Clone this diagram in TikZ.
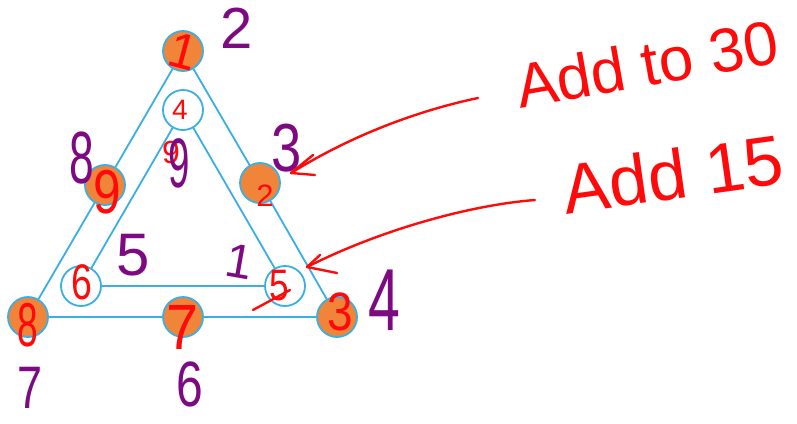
\documentclass[tikz,border=0pt]{standalone}
\usepackage{fontspec}
\setmainfont{Liberation Sans}
\definecolor{lineblue}{HTML}{3BAEE3}
\definecolor{dotorange}{HTML}{F0853A}
\definecolor{inkred}{HTML}{FF0A0A}
\definecolor{inkpurple}{HTML}{7D0A82}
\tikzset{
  fullc/.style={circle, draw=lineblue, line width=1.8pt, fill=dotorange, minimum size=40pt, inner sep=0pt},
  emptyc/.style={circle, draw=lineblue, line width=1.8pt, fill=white, minimum size=40pt, inner sep=0pt},
  link/.style={draw=lineblue, line width=1.8pt},
  rednum/.style={text=inkred, inner sep=0pt, font=\fontsize{#1}{#1}\selectfont},
  purnum/.style={text=inkpurple, inner sep=0pt, font=\fontsize{#1}{#1}\selectfont},
  inkline/.style={draw=inkred, line width=2.4pt, line cap=round, line join=round},
}
\begin{document}
\begin{tikzpicture}[x=1pt,y=-1pt]
\useasboundingbox (0,0) rectangle (797,423);
% circles
\node[fullc] (o1) at (183,51) {};
\node[fullc] (o2) at (105,185) {};
\node[fullc] (o3) at (260,183) {};
\node[fullc] (o4) at (28,317) {};
\node[fullc] (o5) at (183,317) {};
\node[fullc] (o6) at (337,317) {};
\node[emptyc] (w1) at (183,110) {};
\node[emptyc] (w2) at (81,286) {};
\node[emptyc] (w3) at (285,286) {};
% links
\draw[link] (o1) -- (o2);
\draw[link] (o2) -- (o4);
\draw[link] (o1) -- (o3);
\draw[link] (o3) -- (o6);
\draw[link] (o4) -- (o5);
\draw[link] (o5) -- (o6);
\draw[link] (w1) -- (w2);
\draw[link] (w1) -- (w3);
\draw[link] (w2) -- (w3);
% red digits
\node[rednum=50, rotate=-15] (r1) at (183,51) {1};
\node[rednum=28] (r4) at (180,110) {4};
\node[rednum=32] (r9a) at (171,152) {9};
\node[rednum=62, xscale=0.8] (r9b) at (107,192) {9};
\node[rednum=31] (r2) at (265,196) {2};
\node[rednum=62, xscale=0.6] (r8) at (28,325) {8};
\node[rednum=64, xscale=0.9] (r7) at (183,327) {7};
\node[rednum=54, xscale=0.85] (r3) at (340,312) {3};
\node[rednum=50, xscale=0.75] (r6) at (82,282) {6};
\node[rednum=44, xscale=0.8] (r5) at (279,286) {5};
\coordinate (s1) at (253,310);
\coordinate (s2) at (290,290);
\draw[inkline] (s1) -- (s2);
% purple digits
\node[purnum=58] (p2) at (237,28) {2};
\node[purnum=74, xscale=0.6] (p8) at (82,158) {8};
\node[purnum=68, xscale=0.8] (p3) at (287,148) {3};
\node[purnum=70, xscale=0.55] (p9) at (179,163) {9};
\node[purnum=60] (p5) at (133,255) {5};
\node[purnum=48, rotate=-10] (p1) at (240,262) {1};
\node[purnum=88, xscale=0.65] (p4) at (384,300) {4};
\node[purnum=60, xscale=0.75] (p7) at (30,388) {7};
\node[purnum=64, xscale=0.75] (p6) at (190,384) {6};
% notes
\node[rednum=62, rotate=10] (t30) at (647,64) {Add to 30};
\node[rednum=70, rotate=8] (t15) at (673,174) {Add 15};
% arrows
\coordinate (a1s) at (478,98);
\coordinate (a1t) at (291,173);
\coordinate (a1h1) at (313,155);
\coordinate (a1h2) at (315,175);
\draw[inkline] (a1s) .. controls (430,108) and (360,130) .. (a1t);
\draw[inkline] (a1h1) -- (a1t) -- (a1h2);
\coordinate (a2s) at (535,200);
\coordinate (a2t) at (307,267);
\coordinate (a2h1) at (320,255);
\coordinate (a2h2) at (337,273);
\draw[inkline] (a2s) .. controls (470,205) and (380,230) .. (a2t);
\draw[inkline] (a2h1) -- (a2t) -- (a2h2);
\end{tikzpicture}
\end{document}
